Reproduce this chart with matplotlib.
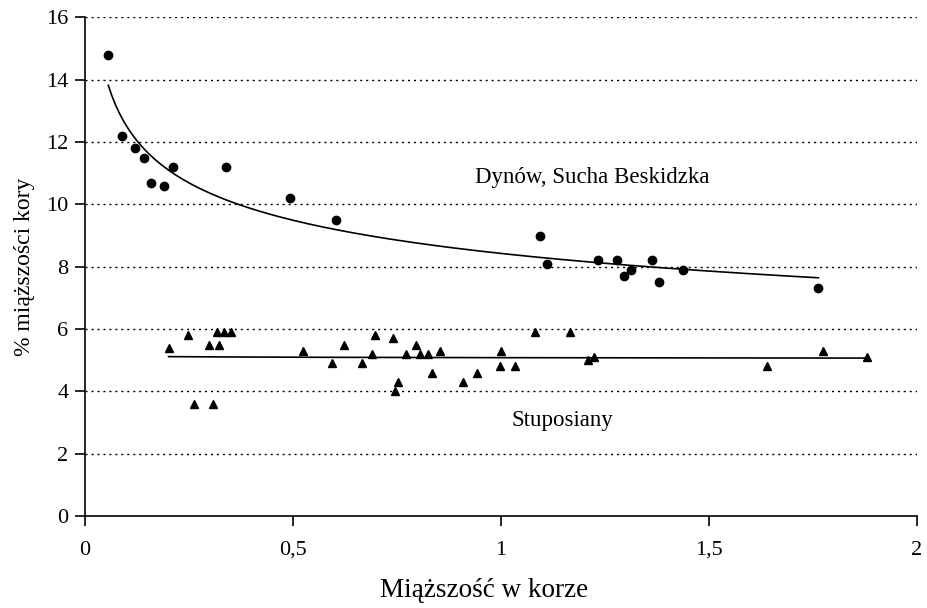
import numpy as np
import matplotlib.pyplot as plt

plt.rcParams['font.family'] = ['Liberation Serif', 'DejaVu Serif']

# Dynów, Sucha Beskidzka (circles)
dyn_x = [0.056, 0.090, 0.119, 0.141, 0.159, 0.191, 0.212, 0.340, 0.493, 0.603,
         1.094, 1.110, 1.234, 1.278, 1.296, 1.312, 1.362, 1.381, 1.437, 1.763]
dyn_y = [14.8, 12.2, 11.8, 11.5, 10.7, 10.6, 11.2, 11.2, 10.2, 9.5,
         9.0, 8.1, 8.2, 8.2, 7.7, 7.9, 8.2, 7.5, 7.9, 7.3]

# Stuposiany (triangles)
stu_x = [0.201, 0.248, 0.262, 0.298, 0.308, 0.317, 0.322, 0.333, 0.350, 0.524,
         0.593, 0.622, 0.666, 0.690, 0.698, 0.741, 0.745, 0.752, 0.771, 0.796,
         0.805, 0.825, 0.833, 0.853, 0.909, 0.943, 0.998, 1.000, 1.034, 1.081,
         1.167, 1.208, 1.224, 1.639, 1.775, 1.881]
stu_y = [5.4, 5.8, 3.6, 5.5, 3.6, 5.9, 5.5, 5.9, 5.9, 5.3,
         4.9, 5.5, 4.9, 5.2, 5.8, 5.7, 4.0, 4.3, 5.2, 5.5,
         5.2, 5.2, 4.6, 5.3, 4.3, 4.6, 4.8, 5.3, 4.8, 5.9,
         5.9, 5.0, 5.1, 4.8, 5.3, 5.1]

x_ticks = [0, 0.5, 1, 1.5, 2]
x_labels = ['0', '0,5', '1', '1,5', '2']
y_ticks = [0, 2, 4, 6, 8, 10, 12, 14, 16]


def power_trend(x, y):
    # power trendline y = a*x^b fitted in log-log space
    x = np.asarray(x)
    y = np.asarray(y)
    b, lna = np.polyfit(np.log(x), np.log(y), 1)
    xs = np.linspace(x.min(), x.max(), 200)
    return xs, np.exp(lna) * xs ** b


fig = plt.figure(figsize=(9.27, 6.08), dpi=100)
ax = fig.add_axes([0.0917, 0.1513, 0.8975, 0.8202])

for yy in y_ticks[1:]:
    ax.axhline(yy, color='black', lw=1.0, ls=(0, (1.5, 2.8)), zorder=1)

xs, ys = power_trend(dyn_x, dyn_y)
ax.plot(xs, ys, color='black', lw=1.2, zorder=2)
xs, ys = power_trend(stu_x, stu_y)
ax.plot(xs, ys, color='black', lw=1.2, zorder=2)

ax.plot(dyn_x, dyn_y, 'o', color='black', ms=6, zorder=3)
ax.plot(stu_x, stu_y, '^', color='black', ms=6, zorder=3)

ax.text(1.22, 10.85, 'Dynów, Sucha Beskidzka', fontsize=16.5, ha='center', va='center')
ax.text(1.147, 3.06, 'Stuposiany', fontsize=16.5, ha='center', va='center')

ax.set_xlim(0, 2)
ax.set_ylim(0, 16)
ax.set_xticks(x_ticks)
ax.set_xticklabels(x_labels)
ax.set_yticks(y_ticks)
ax.tick_params(labelsize=16, length=7, width=1.2, color='black', pad=11)
ax.tick_params(axis='y', pad=5)
ax.spines['top'].set_visible(False)
ax.spines['right'].set_visible(False)
ax.spines['left'].set_linewidth(1.2)
ax.spines['bottom'].set_linewidth(1.2)

ax.set_xlabel('Miąższość w korze', fontsize=19.5)
ax.xaxis.set_label_coords(0.48, -0.125)
ax.set_ylabel('% miąższości kory', fontsize=17, labelpad=8)

fig.savefig('out.png', dpi=100)
